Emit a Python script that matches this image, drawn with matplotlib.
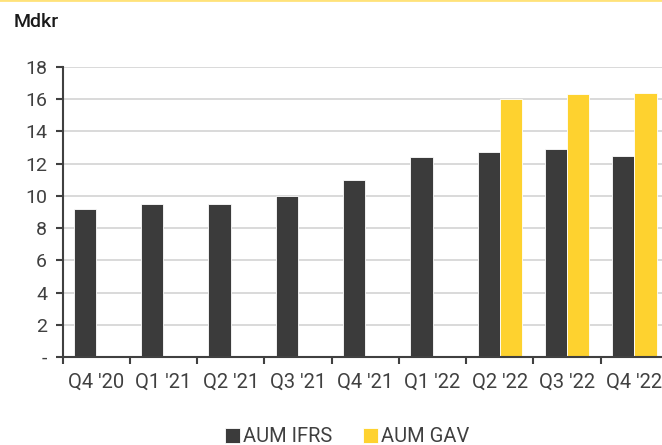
import numpy as np
import matplotlib.pyplot as plt
from matplotlib.lines import Line2D

plt.rcParams['font.family'] = ['Roboto', 'DejaVu Sans']

quarters = ["Q4 '20", "Q1 '21", "Q2 '21", "Q3 '21", "Q4 '21", "Q1 '22", "Q2 '22", "Q3 '22", "Q4 '22"]
aum_ifrs = [9.2, 9.5, 9.5, 10.0, 11.0, 12.4, 12.7, 12.9, 12.5]
aum_gav = [np.nan, np.nan, np.nan, np.nan, np.nan, np.nan, 16.0, 16.3, 16.4]
ytick_vals = [0, 2, 4, 6, 8, 10, 12, 14, 16, 18]
ytick_labels = ["-", "2", "4", "6", "8", "10", "12", "14", "16", "18"]

dark = "#3b3b3b"
yellow = "#fed22f"
txt = "#404040"
axc = "#404040"

fig = plt.figure(figsize=(6.62, 4.45), dpi=100)
ax = fig.add_axes([62.5 / 662, 1 - 357 / 445, (668 - 62.5) / 662, 290 / 445])

x = np.arange(len(quarters))
w = 0.33
ax.bar(x - w / 2, aum_ifrs, w, color=dark, edgecolor="white", linewidth=0.6, label="AUM IFRS", zorder=3)
ax.bar(x + w / 2, aum_gav, w, color=yellow, edgecolor="white", linewidth=0.6, label="AUM GAV", zorder=3)

ax.set_xlim(-0.5, len(quarters) - 0.5)
ax.set_ylim(0, 18)
ax.set_yticks(ytick_vals)
ax.set_yticklabels(ytick_labels)
ax.set_xticks(x)
ax.set_xticklabels(quarters)
ax.set_xticks(np.arange(-0.5, len(quarters)), minor=True)
ax.tick_params(axis="x", which="major", length=0, pad=11, labelsize=14.5, labelcolor=txt)
ax.tick_params(axis="x", which="minor", length=5, width=1.5, color=axc, direction="out")
ax.tick_params(axis="y", length=5, width=1.5, color=axc, pad=6, labelsize=14, labelcolor=txt)

ax.grid(axis="y", color="#d9d9d9", linewidth=1.4, zorder=0)
ax.set_axisbelow(True)
for s in ["top", "right"]:
    ax.spines[s].set_visible(False)
ax.spines["left"].set_color(axc)
ax.spines["left"].set_linewidth(1.5)
ax.spines["bottom"].set_color(axc)
ax.spines["bottom"].set_linewidth(1.5)
ax.spines["bottom"].set_zorder(4)

fig.text(14 / 662, 1 - 22 / 445, "Mdkr", fontsize=14, fontweight="medium", color="#1a1a1a", va="center", ha="left")

# thin yellow line at the top edge
fig.add_artist(Line2D([0, 1], [0.999, 0.999], transform=fig.transFigure, color="#ffe27a", linewidth=2))

leg = fig.legend(loc="center", bbox_to_anchor=(347 / 662, 1 - 437 / 445), ncol=2, frameon=False,
                 handlelength=0.75, handleheight=0.75, handletextpad=0.15, columnspacing=1.5,
                 fontsize=14.5)
for t in leg.get_texts():
    t.set_color(txt)

fig.savefig("out.png", dpi=100)
